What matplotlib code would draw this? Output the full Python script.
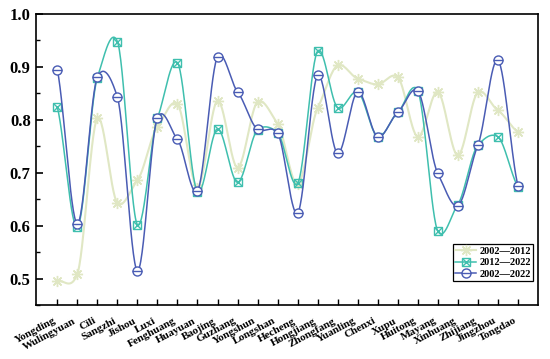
import numpy as np
import matplotlib
matplotlib.use('Agg')
import matplotlib.pyplot as plt
from matplotlib.ticker import MultipleLocator
from matplotlib.legend_handler import HandlerTuple

plt.rcParams['font.family'] = ['Liberation Serif', 'DejaVu Serif']
plt.rcParams['font.weight'] = 'bold'

counties = ['Yongding', 'Wulingyuan', 'Cili', 'Sangzhi', 'Jishou', 'Luxi', 'Fenghuang',
            'Huayuan', 'Baojing', 'Guzhang', 'Yongshun', 'Longshan', 'Hecheng', 'Hongjiang',
            'Zhongfang', 'Yuanling', 'Chenxi', 'Xupu', 'Huitong', 'Mayang', 'Xinhuang',
            'Zhijiang', 'Jingzhou', 'Tongdao']

v_2002_2012 = [0.496, 0.509, 0.803, 0.643, 0.686, 0.787, 0.830, 0.672, 0.836, 0.710,
               0.834, 0.793, 0.678, 0.822, 0.903, 0.878, 0.867, 0.881, 0.768, 0.853,
               0.733, 0.852, 0.818, 0.777]
v_2012_2022 = [0.824, 0.597, 0.880, 0.948, 0.602, 0.803, 0.908, 0.664, 0.783, 0.682,
               0.781, 0.776, 0.680, 0.930, 0.823, 0.853, 0.768, 0.814, 0.855, 0.590,
               0.640, 0.752, 0.768, 0.674]
v_2002_2022 = [0.895, 0.604, 0.881, 0.843, 0.515, 0.804, 0.763, 0.666, 0.919, 0.853,
               0.782, 0.775, 0.624, 0.884, 0.737, 0.853, 0.768, 0.814, 0.855, 0.699,
               0.638, 0.752, 0.913, 0.676]


def smooth(y, n=30, tension=0.65):
    # cubic hermite through the points, tangents scaled down a bit
    y = np.asarray(y, dtype=float)
    m = np.gradient(y) * tension
    xs, ys = [], []
    for i in range(len(y) - 1):
        t = np.linspace(0, 1, n, endpoint=False)
        h00 = 2 * t**3 - 3 * t**2 + 1
        h10 = t**3 - 2 * t**2 + t
        h01 = -2 * t**3 + 3 * t**2
        h11 = t**3 - t**2
        xs.append(i + t)
        ys.append(h00 * y[i] + h10 * m[i] + h01 * y[i + 1] + h11 * m[i + 1])
    xs.append([len(y) - 1])
    ys.append([y[-1]])
    return np.concatenate(xs), np.concatenate(ys)


c_pale = '#e0e7c4'
c_teal = '#3fbfae'
c_blue = '#4a5cb4'

fig, ax = plt.subplots(figsize=(5.5, 3.59), dpi=100)
x = np.arange(len(counties))

xs, ys = smooth(v_2002_2012)
ax.plot(xs, ys, color=c_pale, lw=1.5, zorder=2)
ax.plot(x, v_2002_2012, ls='none', color=c_pale, marker=(8, 2, 0), ms=8, mew=1.0, zorder=3)

xs, ys = smooth(v_2012_2022)
ax.plot(xs, ys, color=c_teal, lw=1.1, zorder=4)
ax.plot(x, v_2012_2022, ls='none', marker='s', ms=6, mfc='none', mec=c_teal, mew=1.0, zorder=5)
ax.plot(x, v_2012_2022, ls='none', marker='x', ms=6, mec=c_teal, mew=1.0, zorder=5)

xs, ys = smooth(v_2002_2022)
ax.plot(xs, ys, color=c_blue, lw=1.1, zorder=6)
ax.plot(x, v_2002_2022, ls='none', marker='o', ms=6.5, mfc='white', mec=c_blue, mew=1.0, zorder=7)
ax.plot(x, v_2002_2022, ls='none', marker='_', ms=6.5, mec=c_blue, mew=1.0, zorder=7)

# legend handles: line through combined markers
l1, = ax.plot([], [], color=c_pale, lw=1.5, marker=(8, 2, 0), ms=8)
l2a, = ax.plot([], [], color=c_teal, lw=1.1, marker='s', ms=6, mfc='none')
l2b, = ax.plot([], [], ls='none', marker='x', ms=6, mec=c_teal)
l3a, = ax.plot([], [], color=c_blue, lw=1.1, marker='o', ms=6.5, mfc='white')
l3b, = ax.plot([], [], ls='none', marker='_', ms=6.5, mec=c_blue)

leg = ax.legend([l1, (l2a, l2b), (l3a, l3b)],
                ['2002\u20142012', '2012\u20142022', '2002\u20142022'],
                handler_map={tuple: HandlerTuple(ndivide=1, pad=0)},
                loc='lower right', bbox_to_anchor=(0.995, 0.075), fancybox=False,
                edgecolor='black', framealpha=1, fontsize=7.5, handlelength=2.0,
                handletextpad=0.3, borderpad=0.25, labelspacing=0.2, borderaxespad=0.2)
leg.get_frame().set_linewidth(0.9)

ax.set_xlim(-1.05, 24)
ax.set_ylim(0.45, 1.0)
ax.set_xticks(x)
ax.set_xticklabels(counties, rotation=28, ha='right', fontsize=8, fontweight='bold')
ax.yaxis.set_major_locator(MultipleLocator(0.1))
ax.yaxis.set_minor_locator(MultipleLocator(0.05))
ax.set_yticks(np.arange(0.5, 1.01, 0.1))
ax.set_yticklabels(['%.1f' % v for v in np.arange(0.5, 1.01, 0.1)], fontsize=12, fontweight='bold')
ax.tick_params(axis='both', which='both', direction='in', top=False, right=False)
ax.tick_params(axis='y', which='major', length=5, width=1.2, pad=4)
ax.tick_params(axis='y', which='minor', length=3, width=1.0)
ax.tick_params(axis='x', which='major', length=4, width=1.0, pad=8)
for s in ax.spines.values():
    s.set_linewidth(1.2)

plt.subplots_adjust(left=0.066, right=0.978, top=0.961, bottom=0.15)
fig.savefig('out.png', dpi=100)
